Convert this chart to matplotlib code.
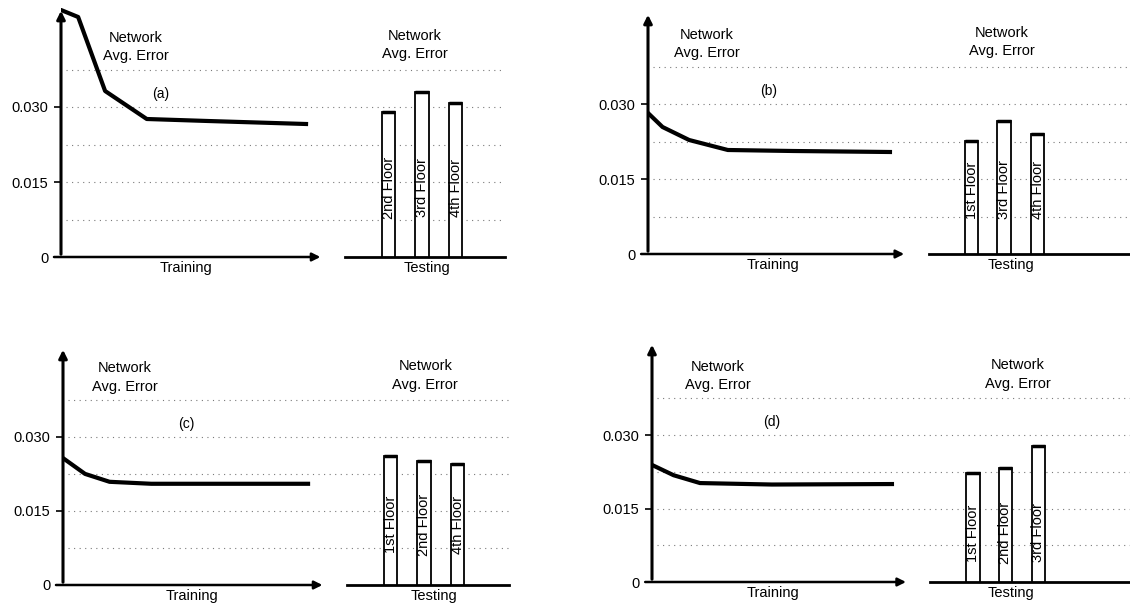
import matplotlib.pyplot as plt

plt.rcParams['font.family'] = ['Liberation Sans', 'DejaVu Sans']

# training curves (fraction of training run, network avg. error)
train_x_a = [0, 0.07, 0.18, 0.35, 0.6, 1.0]
train_y_a = [0.0494, 0.0480, 0.0332, 0.0276, 0.0272, 0.0266]
train_x_b = [0, 0.06, 0.17, 0.33, 0.6, 1.0]
train_y_b = [0.0282, 0.0254, 0.0228, 0.0208, 0.0206, 0.0204]
train_x_c = [0, 0.09, 0.19, 0.36, 0.6, 1.0]
train_y_c = [0.0257, 0.0225, 0.0209, 0.0205, 0.0205, 0.0205]
train_x_d = [0, 0.09, 0.2, 0.5, 1.0]
train_y_d = [0.0239, 0.0218, 0.0202, 0.0199, 0.0200]

# testing errors per floor
floors_a = ['2nd Floor', '3rd Floor', '4th Floor']
test_a = [0.0290, 0.0330, 0.0308]
floors_b = ['1st Floor', '3rd Floor', '4th Floor']
test_b = [0.0226, 0.0266, 0.0240]
floors_c = ['1st Floor', '2nd Floor', '4th Floor']
test_c = [0.0262, 0.0251, 0.0245]
floors_d = ['1st Floor', '2nd Floor', '3rd Floor']
test_d = [0.0222, 0.0233, 0.0278]

tags = ['(a)', '(b)', '(c)', '(d)']
W, H = 1130, 612

# pixel boxes (left, right, bottom, top) and layout in axes units
panels = [
    dict(box=(61, 505, 257, 8), xmax=1.812, ymax=0.0498, tx=train_x_a, ty=train_y_a,
         floors=floors_a, vals=test_a, lab_y=0.0138, net_l=0.306, net_r=1.445, tag_x=0.408,
         train_lab=0.51, test_lab=1.494),
    dict(box=(648, 1130, 254, 12), xmax=1.992, ymax=0.0484, tx=train_x_b, ty=train_y_b,
         floors=floors_b, vals=test_b, lab_y=0.0128, net_l=0.244, net_r=1.463, tag_x=0.5,
         train_lab=0.517, test_lab=1.5),
    dict(box=(63, 509, 585, 347), xmax=1.82, ymax=0.0482, tx=train_x_c, ty=train_y_c,
         floors=floors_c, vals=test_c, lab_y=0.0122, net_l=0.253, net_r=1.478, tag_x=0.502,
         train_lab=0.526, test_lab=1.514),
    dict(box=(652, 1130, 582, 342), xmax=1.992, ymax=0.049, tx=train_x_d, ty=train_y_d,
         floors=floors_d, vals=test_d, lab_y=0.0100, net_l=0.275, net_r=1.525, tag_x=0.5,
         train_lab=0.504, test_lab=1.496),
]
bar_pos = [1.337, 1.472, 1.61]
bar_w = 0.056
arrow_end = 1.07
test_start = 1.16

fig = plt.figure(figsize=(W / 100, H / 100), dpi=100)

for p, tag in zip(panels, tags):
    l, r, b, t = p['box']
    ax = fig.add_axes([l / W, 1 - b / H, (r - l) / W, (b - t) / H])
    ax.set_xlim(0, p['xmax'])
    ax.set_ylim(0, p['ymax'])
    for s in ax.spines.values():
        s.set_visible(False)
    ax.set_xticks([])
    ax.set_yticks([0, 0.015, 0.030], ['0', '0.015', '0.030'])
    ax.tick_params(axis='y', length=5, width=1.2, pad=4, labelsize=10.5)

    # dotted grid
    for g in [0.0075, 0.015, 0.0225, 0.030, 0.0375]:
        ax.plot([0.02, p['xmax']], [g, g], color='#7a7a7a', lw=0.8,
                linestyle=(0, (1, 4)), zorder=1)

    # axes arrows
    ax.annotate('', xy=(0, p['ymax']), xytext=(0, 0), annotation_clip=False,
                arrowprops=dict(arrowstyle='-|>', lw=2.2, color='black', mutation_scale=12))
    ax.annotate('', xy=(arrow_end, 0), xytext=(-0.04, 0), annotation_clip=False,
                arrowprops=dict(arrowstyle='-|>', lw=1.8, color='black', mutation_scale=12))
    ax.plot([test_start, p['xmax']], [0, 0], color='black', lw=2, clip_on=False)

    # training curve
    ax.plot(p['tx'], p['ty'], color='black', lw=3, zorder=3)

    # testing bars
    ax.bar(bar_pos, p['vals'], width=bar_w, color='white', edgecolor='black', lw=1.3, zorder=3)
    ax.hlines(p['vals'], [x - bar_w / 2 for x in bar_pos], [x + bar_w / 2 for x in bar_pos],
              color='black', lw=2.5, zorder=4)
    for x, name in zip(bar_pos, p['floors']):
        ax.text(x, p['lab_y'], name, rotation=90, ha='center', va='center', fontsize=10.5, zorder=5)

    ax.text(p['net_l'], 0.042, 'Network\nAvg. Error', ha='center', va='center', fontsize=10.5,
            linespacing=1.4)
    ax.text(p['net_r'], 0.0424, 'Network\nAvg. Error', ha='center', va='center', fontsize=10.5,
            linespacing=1.4)
    ax.text(p['tag_x'], 0.0326, tag, ha='center', va='center', fontsize=10)
    ax.text(p['train_lab'], -0.0022, 'Training', ha='center', va='center', fontsize=10.5)
    ax.text(p['test_lab'], -0.0022, 'Testing', ha='center', va='center', fontsize=10.5)

fig.savefig('out.png', dpi=100)
